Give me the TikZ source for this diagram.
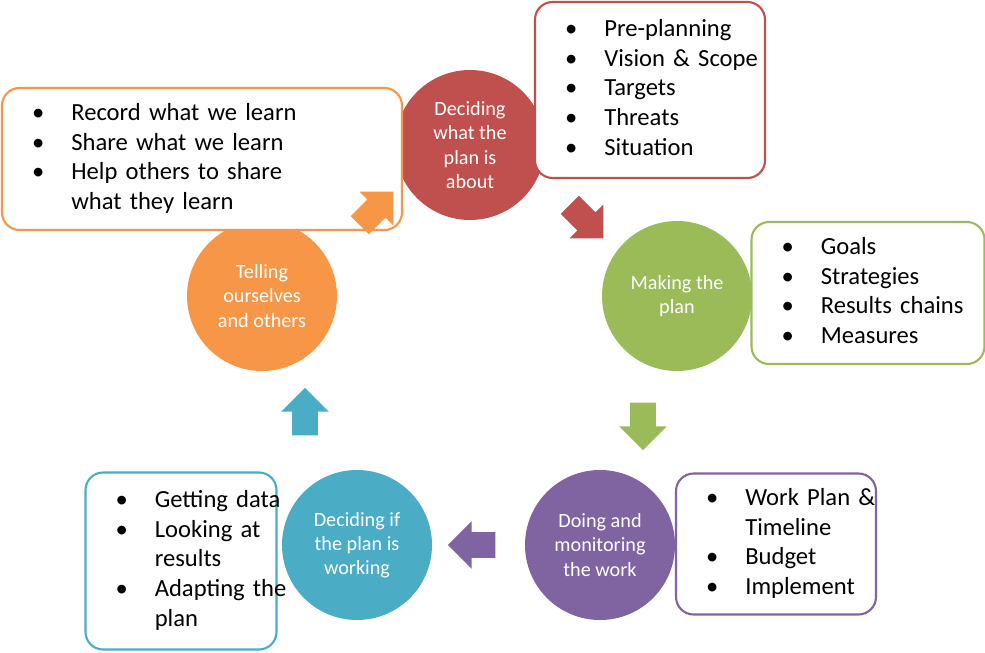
\documentclass[tikz,border=0pt]{standalone}
\usepackage{fontspec}
\setmainfont{Carlito}
\usetikzlibrary{shapes.arrows}

\definecolor{cred}{HTML}{C0504D}
\definecolor{cgreen}{HTML}{9BBB59}
\definecolor{cpurple}{HTML}{8064A2}
\definecolor{cteal}{HTML}{4BACC6}
\definecolor{corange}{HTML}{F79646}

\newenvironment{steplist}{\begin{tabular}{@{}l@{\hspace{1.1em}}l@{}}}{\end{tabular}}

\begin{document}
\begin{tikzpicture}[
    stage/.style={circle, fill=#1, minimum size=3cm, inner sep=1pt, text=white,
      align=center, font=\fontsize{11.5}{13.8}\selectfont},
    listbox/.style 2 args={draw=#1, line width=1.2pt, fill=white, rounded corners=10pt,
      inner xsep=0.6cm, text width=#2, font=\fontsize{14}{17}\selectfont},
    turn/.style={single arrow, fill=#1, minimum height=0.95cm, minimum width=0.95cm,
      single arrow head extend=0.22cm, inner sep=0pt}
  ]
  \useasboundingbox (0,0) rectangle (19.7,13.04);

  % stages of the cycle
  \node[stage=cred]    (about)   at (9.4,10.14) {Deciding\\what the\\plan is\\about};
  \node[stage=cgreen]  (making)  at (13.54,7.12) {Making the\\plan};
  \node[stage=cpurple] (doing)   at (12.0,2.14) {Doing and\\monitoring\\the work};
  \node[stage=cteal]   (working) at (7.14,2.14) {Deciding if\\the plan is\\working};
  \node[stage=corange] (telling) at (5.24,7.12) {Telling\\ourselves\\and others};

  % lists of steps
  \node[listbox={cred}{3.4cm}, minimum height=3.52cm] (aboutlist) at (13.0,11.24)
    {\begin{steplist}\textbullet & Pre-planning\\ \textbullet & Vision \& Scope\\
     \textbullet & Targets\\ \textbullet & Threats\\ \textbullet & Situation\end{steplist}};
  \node[listbox={corange}{6.8cm}, minimum height=2.84cm] (tellinglist) at (4.04,9.86)
    {\begin{steplist}\textbullet & Record what we learn\\ \textbullet & Share what we learn\\
     \textbullet & Help others to share\\ & what they learn\end{steplist}};
  \node[listbox={cgreen}{3.46cm}, minimum height=2.84cm] (makinglist) at (17.36,7.18)
    {\begin{steplist}\textbullet & Goals\\ \textbullet & Strategies\\
     \textbullet & Results chains\\ \textbullet & Measures\end{steplist}};
  \node[listbox={cpurple}{2.8cm}, minimum height=2.82cm] (doinglist) at (15.52,2.16)
    {\begin{steplist}\textbullet & Work Plan \&\\ & Timeline\\
     \textbullet & Budget\\ \textbullet & Implement\end{steplist}};
  \node[listbox={cteal}{2.62cm}, minimum height=3.54cm] (workinglist) at (3.62,1.82)
    {\begin{steplist}\textbullet & Getting data\\ \textbullet & Looking at\\ & results\\
     \textbullet & Adapting the\\ & plan\end{steplist}};

  % arrows between stages
  \node[turn=corange, rotate=45]  (a1) at (7.44,8.78) {\rule{0pt}{0.5cm}};
  \node[turn=cred, rotate=-45]    (a2) at (11.64,8.7) {\rule{0pt}{0.5cm}};
  \node[turn=cgreen, rotate=-90]  (a3) at (12.86,4.64) {\rule{0pt}{0.5cm}};
  \node[turn=cpurple, rotate=180] (a4) at (9.56,2.14) {\rule{0pt}{0.5cm}};
  \node[turn=cteal, rotate=90]    (a5) at (6.1,4.68) {\rule{0pt}{0.5cm}};
\end{tikzpicture}
\end{document}
